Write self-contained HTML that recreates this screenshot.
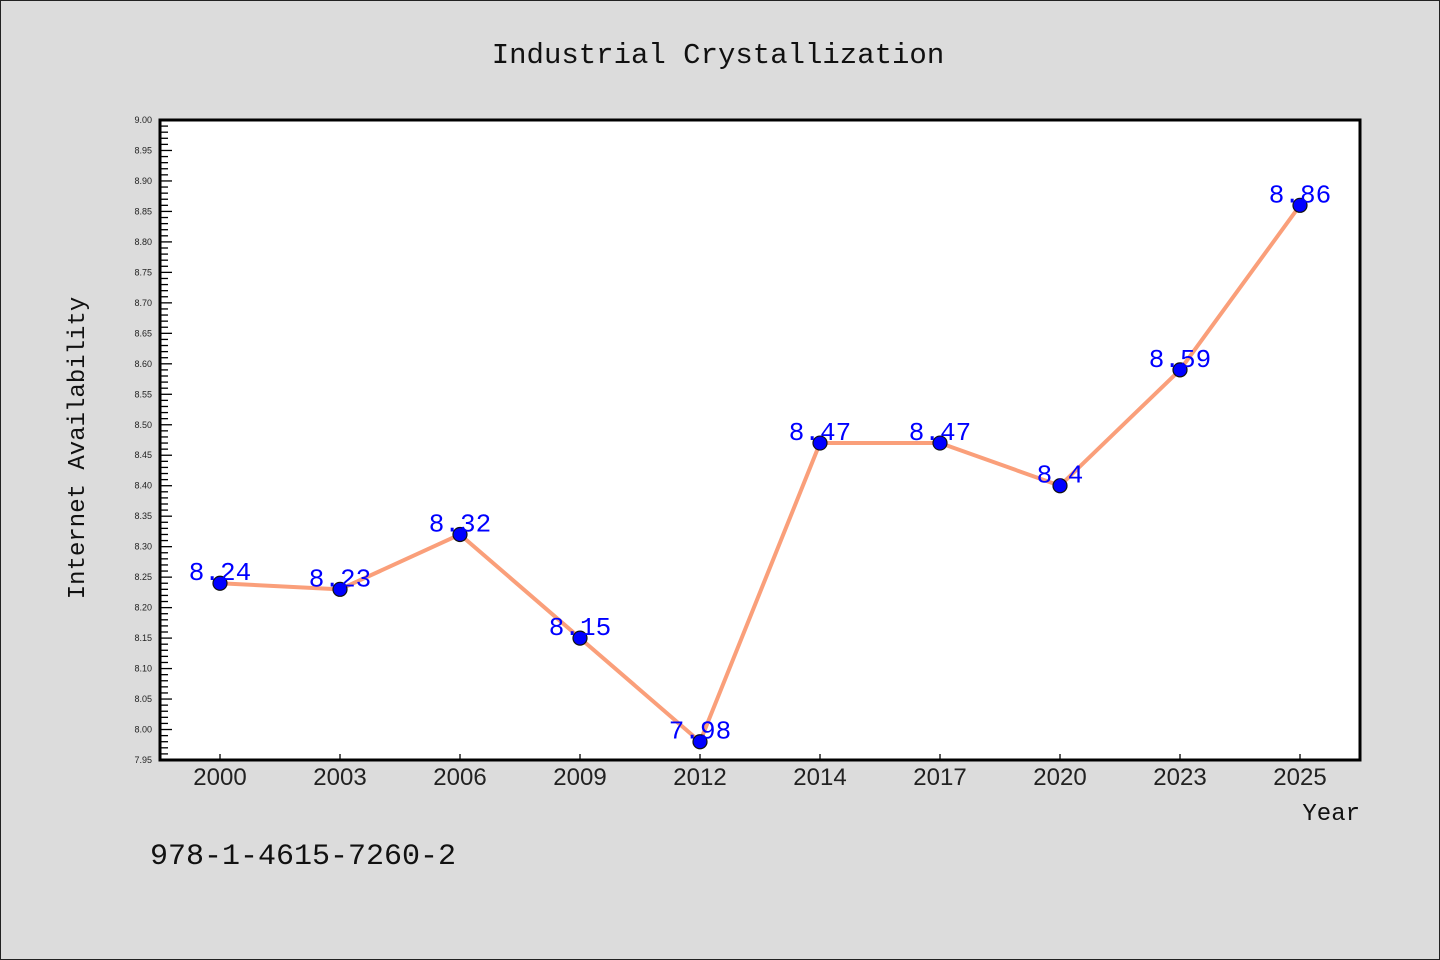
<!DOCTYPE html>
<html><head><meta charset="utf-8"><style>
html,body{margin:0;padding:0;background:#dcdcdc;}
svg{display:block}
</style></head><body>
<svg id="chart" width="1440" height="960" xmlns="http://www.w3.org/2000/svg">
<rect x="0.5" y="0.5" width="1439" height="959" fill="#dcdcdc" stroke="#222" stroke-width="1"/>
<text x="718" y="63" text-anchor="middle" font-family="'Liberation Mono',monospace" font-size="29" fill="#111">Industrial Crystallization</text>
<rect x="160" y="120" width="1200" height="640" fill="#fff"/>
<g id="yaxis"></g>
<g id="xaxis"></g>
<g id="series"></g>
<rect x="160" y="120" width="1200" height="640" fill="none" stroke="#000" stroke-width="3"/>
<text transform="translate(84,448) rotate(-90)" text-anchor="middle" font-family="'Liberation Mono',monospace" font-size="24" fill="#111">Internet Availability</text>
<text x="1360" y="820" text-anchor="end" font-family="'Liberation Mono',monospace" font-size="24" fill="#111">Year</text>
<text x="150" y="864" font-family="'Liberation Mono',monospace" font-size="30" fill="#111">978-1-4615-7260-2</text>
</svg>
<script>
const categories = ["2000","2003","2006","2009","2012","2014","2017","2020","2023","2025"];
const values = [8.24,8.23,8.32,8.15,7.98,8.47,8.47,8.4,8.59,8.86];
const labels = ["8.24","8.23","8.32","8.15","7.98","8.47","8.47","8.4","8.59","8.86"];
const yTicks = ["7.95","8.00","8.05","8.10","8.15","8.20","8.25","8.30","8.35","8.40","8.45","8.50","8.55","8.60","8.65","8.70","8.75","8.80","8.85","8.90","8.95","9.00"];

const NS="http://www.w3.org/2000/svg";
const L=160,R=1360,T=120,B=760,yMin=7.95,yMax=9.00;
function y(v){return B-(v-yMin)/(yMax-yMin)*(B-T);}
function x(i){const w=(R-L)/categories.length;return L+w*i+w/2;}
function mk(tag,attrs,parent){const e=document.createElementNS(NS,tag);for(const k in attrs)e.setAttribute(k,attrs[k]);parent.appendChild(e);return e;}
const ya=document.getElementById('yaxis'),xa=document.getElementById('xaxis'),sg=document.getElementById('series');
yTicks.forEach((t,i)=>{
  const v=parseFloat(t),yy=y(v);
  const tk=mk('line',{x1:L,x2:L+12,y1:yy,y2:yy,stroke:'#000','stroke-width':1.3},ya);
  
  
  const tx=mk('text',{x:152,y:yy+3,'text-anchor':'end','font-family':"'Liberation Sans',sans-serif",'font-size':9,fill:'#222'},ya);
  tx.textContent=t;
  
  
  if(i<yTicks.length-1){
    for(let m=1;m<5;m++){
      const my=y(v+0.01*m);
      const mt=mk('line',{x1:L,x2:L+8,y1:my,y2:my,stroke:'#000','stroke-width':1.3},ya);
      
      
    }
  }
});
categories.forEach((c,i)=>{
  const xx=x(i);
  const tk=mk('line',{x1:xx,x2:xx,y1:B,y2:B-6,stroke:'#000','stroke-width':1.3},xa);
  
  
  const tx=mk('text',{x:xx,y:B+25,'text-anchor':'middle','font-family':"'Liberation Sans',sans-serif",'font-size':24,fill:'#222'},xa);
  tx.textContent=c;
  
  
});
const pl=mk('polyline',{points:values.map((v,i)=>x(i)+','+y(v)).join(' '),fill:'none',stroke:'#fa9f7a','stroke-width':4,'stroke-linejoin':'round'},sg);


values.forEach((v,i)=>{
  const c=mk('circle',{cx:x(i),cy:y(v),r:7,fill:'#0000ff',stroke:'#111','stroke-width':1.2},sg);
  
  
});
values.forEach((v,i)=>{
  const t=mk('text',{x:x(i),y:y(v)-3,'text-anchor':'middle','font-family':"'Liberation Mono',monospace",'font-size':26,fill:'#0000ff'},sg);
  t.textContent=labels[i];
  
  
});
</script>
</body></html>
